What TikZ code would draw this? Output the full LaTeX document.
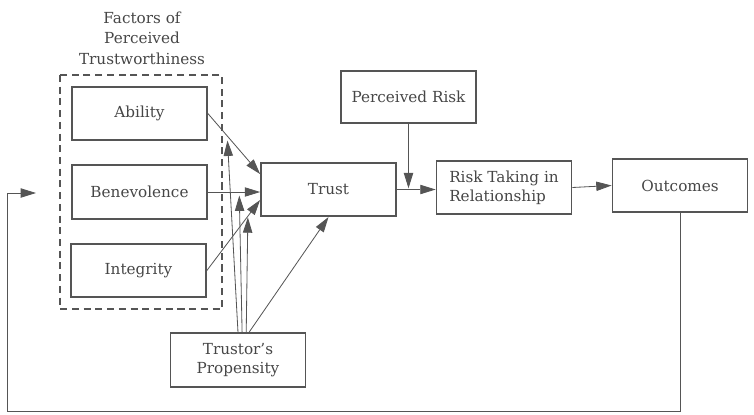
\documentclass[tikz,border=0pt]{standalone}
\usepackage{fontspec}
\setmainfont{DejaVu Serif}
\usepackage{tikz}
\usetikzlibrary{arrows.meta}
\usetikzlibrary{calc}

\definecolor{ink}{RGB}{85,85,85}
\definecolor{txt}{RGB}{70,70,70}

\tikzset{
    box/.style={draw=ink, line width=1.5pt, text=txt, minimum width=4.05cm,
        minimum height=1.6cm, align=center, inner sep=1pt,
        font=\fontsize{13}{16}\selectfont},
    link/.style={draw=ink, line width=0.7pt, -{Triangle[length=4.6mm,width=2.8mm]}},
}

\begin{document}
\begin{tikzpicture}[x=0.03cm,y=-0.03cm]
        \useasboundingbox (0,0) rectangle (754,414);

        \node[text=txt, align=center, font=\fontsize{13}{17.5}\selectfont] (title) at (142,38) {Factors of\\Perceived\\Trustworthiness};
        \draw[ink, line width=1.5pt, dash pattern=on 6pt off 4pt] (60,75) rectangle (222,309);

        \node[box] (ab) at (139.5,113.5) {Ability};
        \node[box] (bn) at (139.5,192) {Benevolence};
        \node[box] (ig) at (138.5,270.5) {Integrity};
        \node[box] (tr) at (328.5,189.5) {Trust};
        \node[box, minimum height=1.55cm] (pr) at (408.5,97) {Perceived Risk};
        \node[box, align=left] (rt) at (504,187.5) {Risk Taking in\\Relationship};
        \node[box] (oc) at (680,185.5) {Outcomes};
        \node[box] (tp) at (238,360) {Trustor's\\Propensity};

        % factors into trust
        \draw[link] (ab.east) -- coordinate[pos=0.37] (m1) ($(tr.north west)!0.22!(tr.south west)$);
        \draw[link] (bn.east) -- coordinate[pos=0.6] (m2) (bn.east -| tr.west);
        \draw[link] (ig.east) -- coordinate[pos=0.77] (m3) ($(tr.north west)!0.69!(tr.south west)$);

        % propensity
        \draw[link, shorten >=4pt] ($(tp.north west)!0.5!(tp.north east)$) -- (m1);
        \draw[link, shorten >=3pt] ($(tp.north west)!0.53!(tp.north east)$) -- (m2);
        \draw[link, shorten >=1pt] ($(tp.north west)!0.56!(tp.north east)$) -- (m3);
        \draw[link] ($(tp.north west)!0.58!(tp.north east)$) -- (tr.south);

        % trust to risk taking to outcomes
        \draw[link] (tr.east) -- (tr.east -| rt.west);
        \coordinate (jn) at (pr.south |- tr.east);
        \draw[link, shorten >=1pt] (pr.south) -- (jn);
        \draw[link] (rt.east) -- (oc.west);

        % feedback loop
        \coordinate (lc) at (7,411);
        \coordinate (fb) at (36,193);
        \draw[link] (oc.south) |- (lc) |- (fb);
    \end{tikzpicture}
\end{document}
